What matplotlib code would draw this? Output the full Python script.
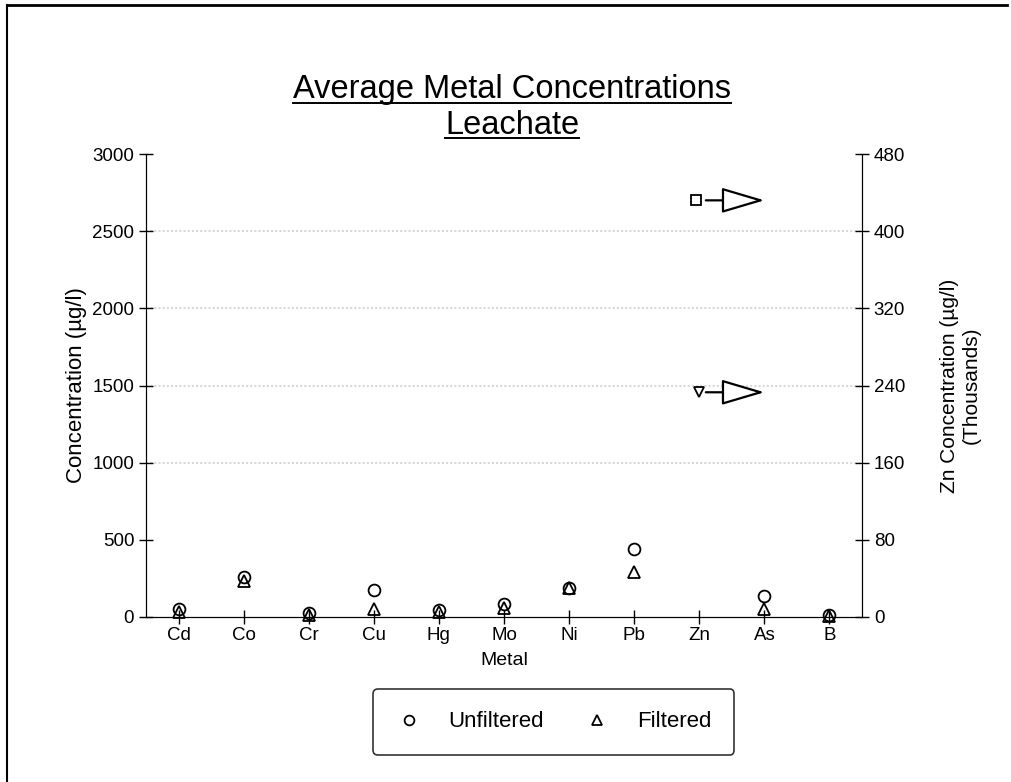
import matplotlib.pyplot as plt
from matplotlib.lines import Line2D

plt.rcParams['font.family'] = ['Liberation Sans', 'DejaVu Sans']

metais = ['Cd', 'Co', 'Cr', 'Cu', 'Hg', 'Mo', 'Ni', 'Pb', 'Zn', 'As', 'B']
# ug/l (Zn fora de escala: valores no eixo direito, em milhares)
nao_filtrado = [50, 260, 25, 175, 45, 85, 190, 440, None, 135, 10]
filtrado = [30, 235, 10, 50, 35, 60, 185, 290, None, 50, 5]
zn_nao_filtrado = 432
zn_filtrado = 233

fig = plt.figure(figsize=(10.12, 7.82), dpi=100)
ax = fig.add_axes([0.1443, 0.211, 0.7075, 0.592])
ax2 = ax.twinx()

x = list(range(len(metais)))
xs_u = [i for i, v in zip(x, nao_filtrado) if v is not None]
ys_u = [v for v in nao_filtrado if v is not None]
xs_f = [i for i, v in zip(x, filtrado) if v is not None]
ys_f = [v for v in filtrado if v is not None]

ax.plot(xs_u, ys_u, 'o', ms=8.5, mfc='none', mec='black', mew=1.3, clip_on=False)
ax.plot(xs_f, ys_f, '^', ms=8, mfc='none', mec='black', mew=1.3, clip_on=False)

zn = metais.index('Zn')
ax2.plot([zn - 0.05], [zn_nao_filtrado], 's', ms=7, mfc='none', mec='black', mew=1.3)
ax2.plot([zn], [zn_filtrado], 'v', ms=7, mfc='none', mec='black', mew=1.3)
for val in [zn_nao_filtrado, zn_filtrado]:
    ax2.annotate('', xy=(zn + 1.0, val), xytext=(zn + 0.1, val),
                 arrowprops=dict(arrowstyle='-|>,head_length=2.7,head_width=0.8',
                                 fc='white', ec='black', lw=1.6, shrinkA=0, shrinkB=0))

ax.set_xlim(-0.5, len(metais) - 0.5)
ax.set_ylim(0, 3000)
ax.set_yticks(range(0, 3001, 500))
ax2.set_ylim(0, 480)
ax2.set_yticks(range(0, 481, 80))
ax.set_xticks(x)
ax.set_xticklabels(metais)

for a in [ax, ax2]:
    a.spines['top'].set_visible(False)
    a.tick_params(direction='inout', length=10, width=1, labelsize=13.5)
ax.tick_params(axis='x', pad=2)

for g in [1000, 1500, 2000, 2500]:
    ax.axhline(g, color='#d8d8d8', lw=1.5, ls=(0, (1, 1)), zorder=0)

ax.set_xlabel('Metal', fontsize=14, labelpad=6)
ax.set_ylabel('Concentration (µg/l)', fontsize=16, labelpad=4)
ax2.set_ylabel('Zn Concentration (µg/l)\n(Thousands)', fontsize=15, labelpad=25)

t1 = fig.text(0.506, 0.885, 'Average Metal Concentrations', ha='center', va='center', fontsize=23.5)
t2 = fig.text(0.506, 0.84, 'Leachate', ha='center', va='center', fontsize=23.5)

handles = [Line2D([], [], marker='o', ls='none', mfc='none', mec='black', ms=7, mew=1.3),
           Line2D([], [], marker='^', ls='none', mfc='none', mec='black', ms=7, mew=1.3)]
leg = fig.legend(handles, ['Unfiltered', 'Filtered'], loc='center', bbox_to_anchor=(0.547, 0.077),
                 ncol=2, fontsize=16, frameon=True, fancybox=True, edgecolor='black',
                 borderpad=1.0, handlelength=1.2, handletextpad=1.2, columnspacing=1.8,
                 borderaxespad=0)
leg.get_frame().set_linewidth(1.2)

# sublinhado do titulo
fig.canvas.draw()
r = fig.canvas.get_renderer()
inv = fig.transFigure.inverted()
for t in [t1, t2]:
    bb = t.get_window_extent(renderer=r)
    (x0, y0), (x1, y1) = inv.transform([(bb.x0, bb.y0), (bb.x1, bb.y1)])
    fig.add_artist(Line2D([x0, x1], [y0 + 0.003, y0 + 0.003], color='black', lw=1.4, transform=fig.transFigure))

# moldura (so topo e esquerda visiveis no original)
fig.add_artist(Line2D([0.007, 0.995], [0.993, 0.993], color='black', lw=2, transform=fig.transFigure))
fig.add_artist(Line2D([0.007, 0.007], [0.0, 0.993], color='black', lw=1.5, transform=fig.transFigure))

fig.savefig('out.png', dpi=100)
